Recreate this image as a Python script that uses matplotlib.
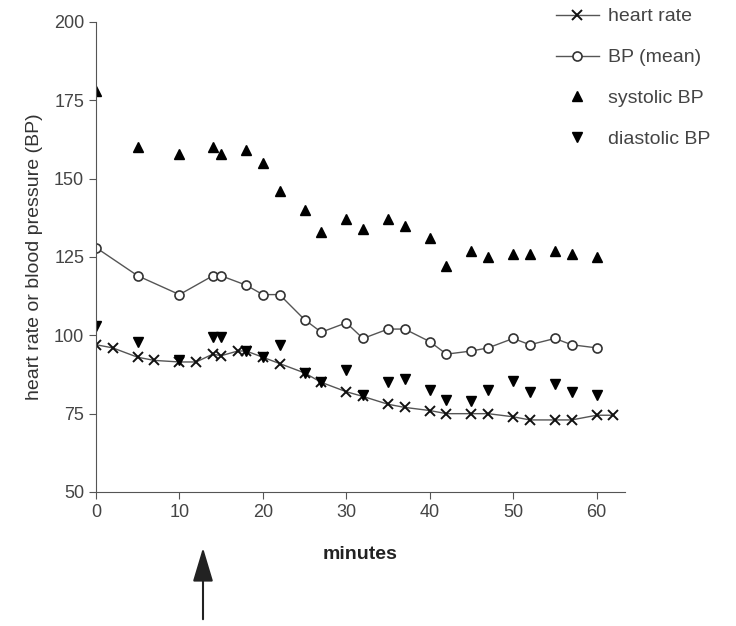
import numpy as np
import matplotlib
matplotlib.use("Agg")
import matplotlib.pyplot as plt

plt.rcParams['font.family'] = ['Liberation Sans', 'DejaVu Sans']

# heart rate (more sampling points than BP)
hr_min = [0, 2, 5, 7, 10, 12, 14, 15, 17, 18, 20, 22, 25, 27, 30, 32, 35, 37, 40, 42, 45, 47, 50, 52, 55, 57, 60, 62]
hr_val = [97, 96, 93, 92, 91.5, 91.5, 94, 93.5, 95, 95, 93, 91, 88, 85, 82, 80.5, 78, 77, 76, 75, 75, 75, 74, 73, 73, 73, 74.5, 74.5]

# blood pressure time points
bp_min = [0, 5, 10, 14, 15, 18, 20, 22, 25, 27, 30, 32, 35, 37, 40, 42, 45, 47, 50, 52, 55, 57, 60]
bp_mean = [128, 119, 113, 119, 119, 116, 113, 113, 105, 101, 104, 99, 102, 102, 98, 94, 95, 96, 99, 97, 99, 97, 96]
bp_sys = [178, 160, 158, 160, 158, 159, 155, 146, 140, 133, 137, 134, 137, 135, 131, 122, 127, 125, 126, 126, 127, 126, 125]
bp_dia = [103, 98, 92, 99.5, 99.5, 95, 93, 97, 88, 85, 89, 81, 85, 86, 82.5, 79.5, 79, 82.5, 85.5, 82, 84.5, 82, 81]

xticks = [0, 10, 20, 30, 40, 50, 60]
yticks = [50, 75, 100, 125, 150, 175, 200]

fig = plt.figure(figsize=(7.36, 6.26), dpi=100)
ax = fig.add_axes([96/736, 1-492/626, (625-96)/736, (492-22)/626])

lc = '#555555'
ax.plot(hr_min, hr_val, color=lc, lw=1, marker='x', ms=7, mew=1.4, mec='#111111', label='heart rate')
ax.plot(bp_min, bp_mean, color=lc, lw=1, marker='o', ms=6.5, mfc='white', mec='#333333', mew=1.2, label='BP (mean)')
ax.plot(bp_min, bp_sys, ls='none', marker='^', ms=7, color='black', label='systolic BP')
ax.plot(bp_min, bp_dia, ls='none', marker='v', ms=7, color='black', label='diastolic BP')

ax.set_xlim(0, 63.4)
ax.set_ylim(50, 200)
ax.set_xticks(xticks)
ax.set_yticks(yticks)
for s in ['top', 'right']:
    ax.spines[s].set_visible(False)
for s in ['left', 'bottom']:
    ax.spines[s].set_color('#555555')
ax.tick_params(direction='out', length=5, color='#555555', labelsize=13, labelcolor='#444444')

ax.set_xlabel('minutes', fontsize=14, fontweight='bold', color='#222222', labelpad=18)
ax.set_ylabel('heart rate or blood pressure (BP)', fontsize=14, color='#333333', labelpad=8)

leg = fig.legend(loc='upper left', bbox_to_anchor=(548/736, 1.0), frameon=False,
                 fontsize=14, labelspacing=1.2, handlelength=2.2, handletextpad=0.5,
                 borderaxespad=0.0)
for t in leg.get_texts():
    t.set_color('#444444')

# arrow marking the intervention under the x axis
fig.add_artist(matplotlib.patches.FancyArrowPatch(
    (203/736, 1-622/626), (203/736, 1-545/626), transform=fig.transFigure,
    arrowstyle='-|>,head_length=1.5,head_width=0.45', mutation_scale=14,
    color='#222222', lw=1.5))

fig.savefig('out.png', dpi=100)
